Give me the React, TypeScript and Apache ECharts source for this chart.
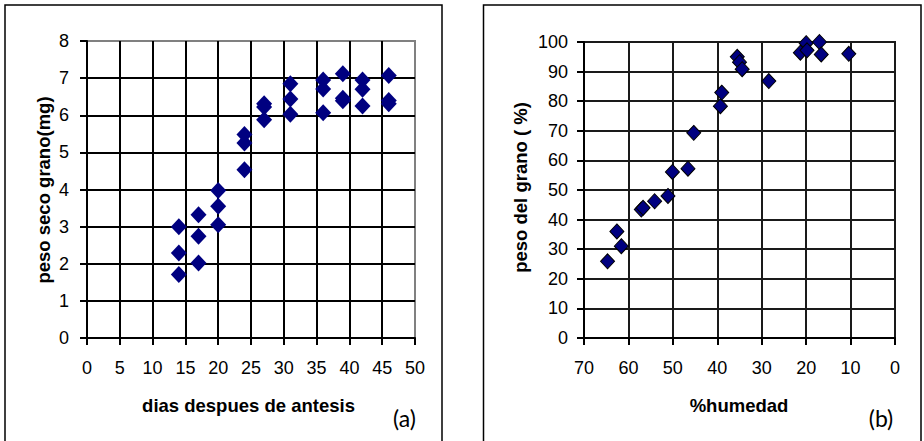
import React, { useEffect, useRef } from "react";
import * as echarts from "echarts";

// (a) grain dry weight vs days after anthesis
const daysAfterAnthesis = [14, 14, 14, 17, 17, 17, 20, 20, 20, 24, 24, 24, 27, 27, 27, 31, 31, 31, 36, 36, 36, 39, 39, 39, 42, 42, 42, 46, 46, 46];
const grainDryWeightMg = [3.0, 2.29, 1.71, 3.32, 2.74, 2.02, 3.97, 3.55, 3.05, 5.48, 5.25, 4.53, 6.31, 6.22, 5.88, 6.85, 6.44, 6.03, 6.95, 6.71, 6.07, 7.12, 6.46, 6.39, 6.95, 6.7, 6.25, 7.07, 6.4, 6.31];

// (b) grain weight (%) vs humidity (%)
const humidityPct = [64.7, 62.6, 61.6, 57.1, 56.7, 54.1, 51.1, 50.1, 46.6, 45.3, 39.3, 39.0, 35.5, 35.0, 34.4, 28.4, 21.3, 20.0, 19.8, 17.0, 16.6, 10.4];
const grainWeightPct = [25.9, 36.0, 31.0, 43.4, 44.0, 46.2, 48.0, 56.1, 57.2, 69.3, 78.3, 82.9, 95.0, 93.2, 90.8, 86.8, 96.4, 99.6, 97.2, 100.0, 95.8, 96.0];

const titleA = { x: "dias despues de antesis", y: "peso seco grano(mg)", tag: "(a)" };
const titleB = { x: "%humedad", y: "peso del grano ( %)", tag: "(b)" };

const FONT = "'Liberation Sans', Arial, sans-serif";

export default function App() {
  const ref = useRef<HTMLDivElement>(null);
  useEffect(() => {
    if (!ref.current) return;
    const chart = echarts.init(ref.current, undefined, { renderer: "svg" });
    const axisLabel = (margin: number) => ({ color: "#000", fontSize: 18, fontFamily: FONT, margin });
    const axisLine = { show: true, onZero: false, lineStyle: { color: "#000", width: 2 } };
    const axisTick = { show: true, length: 7, lineStyle: { color: "#000", width: 2 } };
    const split = (showMax: boolean, color: string) => ({
      show: true,
      showMinLine: false,
      showMaxLine: showMax,
      lineStyle: { color, width: 2 },
    });
    const boldTitle = (text: string, x: number, y: number, rot = 0) => ({
      type: "text",
      x,
      y,
      rotation: rot,
      style: {
        text,
        fill: "#000",
        font: `bold 18.5px ${FONT}`,
        align: "center",
        verticalAlign: "middle",
      },
    });
    const tag = (text: string, x: number, y: number) => ({
      type: "text",
      x,
      y,
      style: { text, fill: "#000", font: "23px Lato, 'Open Sans', sans-serif", align: "center", verticalAlign: "middle" },
    });
    chart.setOption({
      animation: false,
      backgroundColor: "#fff",
      grid: [
        { left: 87, top: 41, width: 328, height: 297, show: true, borderColor: "#808080", borderWidth: 2, backgroundColor: "transparent" },
        { left: 584, top: 42, width: 311, height: 296, show: true, borderColor: "#1a1a1a", borderWidth: 2, backgroundColor: "transparent" },
      ],
      xAxis: [
        {
          gridIndex: 0, type: "value", min: 0, max: 50, interval: 5,
          axisLine, axisTick, axisLabel: axisLabel(21), splitLine: split(false, "#000"),
        },
        {
          gridIndex: 1, type: "value", min: 0, max: 70, interval: 10, inverse: true,
          axisLine, axisTick, axisLabel: axisLabel(21), splitLine: split(true, "#1a1a1a"),
        },
      ],
      yAxis: [
        {
          gridIndex: 0, type: "value", min: 0, max: 8, interval: 1,
          axisLine, axisTick, axisLabel: axisLabel(18), splitLine: split(false, "#000"),
        },
        {
          gridIndex: 1, type: "value", min: 0, max: 100, interval: 10,
          axisLine, axisTick, axisLabel: axisLabel(16), splitLine: split(true, "#1a1a1a"),
        },
      ],
      series: [
        {
          type: "scatter", xAxisIndex: 0, yAxisIndex: 0,
          symbol: "diamond", symbolSize: [16, 17],
          itemStyle: { color: "#000080", opacity: 1 },
          data: daysAfterAnthesis.map((d, i) => [d, grainDryWeightMg[i]]),
        },
        {
          type: "scatter", xAxisIndex: 1, yAxisIndex: 1,
          symbol: "diamond", symbolSize: [14, 15],
          itemStyle: { color: "#000080", borderColor: "#000", borderWidth: 1, opacity: 1 },
          data: humidityPct.map((h, i) => [h, grainWeightPct[i]]),
        },
      ],
      graphic: [
        { type: "rect", shape: { x: 5, y: 5, width: 437, height: 445 }, style: { fill: "none", stroke: "#000", lineWidth: 1.5 }, silent: true },
        { type: "rect", shape: { x: 483.5, y: 5, width: 437.5, height: 445 }, style: { fill: "none", stroke: "#000", lineWidth: 1.5 }, silent: true },
        boldTitle(titleA.y, 43, 190, Math.PI / 2),
        boldTitle(titleA.x, 248.5, 405),
        tag(titleA.tag, 404.5, 418),
        boldTitle(titleB.y, 520.5, 187.5, Math.PI / 2),
        boldTitle(titleB.x, 739, 405),
        tag(titleB.tag, 881, 418),
      ],
    });
    return () => chart.dispose();
  }, []);
  return <div ref={ref} style={{ position: "fixed", left: 0, top: 0, width: 924, height: 441 }} />;
}
